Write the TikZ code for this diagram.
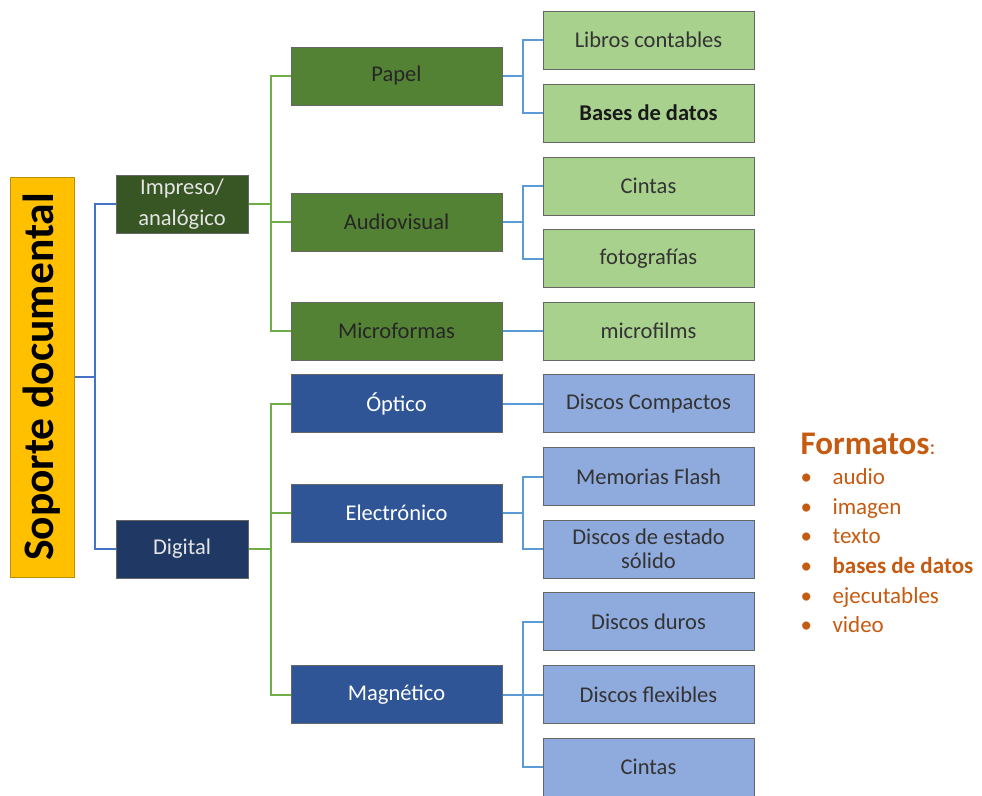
\documentclass[tikz,border=0pt]{standalone}
\usepackage{fontspec}
\setmainfont{Carlito}
\usepackage{tikz}
\usetikzlibrary{positioning}
\definecolor{myellow}{HTML}{FFC000}
\definecolor{mdgreen}{HTML}{375623}
\definecolor{mgreen}{HTML}{548235}
\definecolor{mlgreen}{HTML}{A9D18E}
\definecolor{mnavy}{HTML}{203864}
\definecolor{mblue}{HTML}{2F5597}
\definecolor{mlblue}{HTML}{8FAADC}
\definecolor{lblue}{HTML}{4472C4}
\definecolor{lgreen}{HTML}{70AD47}
\definecolor{lsky}{HTML}{5B9BD5}
\definecolor{morange}{HTML}{C55A11}
\tikzset{box/.style = {draw = black!60, line width = 1, minimum width = 211, minimum height = 58,
                       inner sep = 0, align = center, font = \fontsize{22.5}{24}\selectfont}}
\tikzset{kid/.style = {box, minimum width = 132, minimum height = 58}}
\tikzset{wire/.style = {line width = 2}}
\tikzset{item/.style = {anchor = base west, text = morange, font = \fontsize{23}{26}\selectfont}}

\begin{document}
\begin{tikzpicture}[x=1pt, y=-1pt]
      \useasboundingbox (0, 0) rectangle (982, 795);

      \node [box, rotate=90, minimum width = 400, minimum height = 64, fill = myellow, draw = myellow!75!black,
             font = \fontsize{43.5}{46}\selectfont\bfseries] (soporte) at (42, 377) {Soporte documental};

      \node [kid, fill = mdgreen, text = white!90!black, font = \fontsize{22.5}{31}\selectfont] (impreso) at (182, 204) {Impreso/\\analógico};
      \node [kid, fill = mnavy, text = white!90!black] (digital) at (182, 549) {Digital};

      \node [box, fill = mgreen, text = black!85] (papel) at (396.5, 76) {Papel};
      \node [box, fill = mgreen, text = black!85] (audio) at (396.5, 222) {Audiovisual};
      \node [box, fill = mgreen, text = black!85] (micro) at (396.5, 331) {Microformas};
      \node [box, fill = mblue, text = white] (optico) at (396.5, 403.5) {Óptico};
      \node [box, fill = mblue, text = white] (electro) at (396.5, 513) {Electrónico};
      \node [box, fill = mblue, text = white] (magne) at (396.5, 694.5) {Magnético};

      \node [box, fill = mlgreen, text = black!80] (libros) at (648.5, 40) {Libros contables};
      \node [box, fill = mlgreen, text = black!90, font = \fontsize{22.5}{24}\selectfont\bfseries] (bases) at (648.5, 113) {Bases de datos};
      \node [box, fill = mlgreen, text = black!80] (cintasa) at (648.5, 186) {Cintas};
      \node [box, fill = mlgreen, text = black!80] (foto) at (648.5, 258.5) {fotografías};
      \node [box, fill = mlgreen, text = black!80] (films) at (648.5, 331) {microfilms};
      \node [box, fill = mlblue, text = black!80] (cd) at (648.5, 403.5) {Discos Compactos};
      \node [box, fill = mlblue, text = black!80] (flash) at (648.5, 476.5) {Memorias Flash};
      \node [box, fill = mlblue, text = black!80] (ssd) at (648.5, 549) {Discos de estado\\sólido};
      \node [box, fill = mlblue, text = black!80] (duros) at (648.5, 621.5) {Discos duros};
      \node [box, fill = mlblue, text = black!80] (flex) at (648.5, 694.5) {Discos flexibles};
      \node [box, fill = mlblue, text = black!80] (cintasb) at (648.5, 767) {Cintas};

      \draw [wire, lblue] (soporte.south) -- ++(20, 0) coordinate (s0) |- (impreso.west);
      \draw [wire, lblue] (s0) |- (digital.west);

      \draw [wire, lgreen] (impreso.east) -- ++(22, 0) coordinate (i0) |- (papel.west);
      \draw [wire, lgreen] (i0) |- (audio.west);
      \draw [wire, lgreen] (i0) |- (micro.west);
      \draw [wire, lgreen] (digital.east) -- ++(22, 0) coordinate (d0) |- (optico.west);
      \draw [wire, lgreen] (d0) |- (electro.west);
      \draw [wire, lgreen] (d0) |- (magne.west);

      \draw [wire, lsky] (papel.east) -- ++(20, 0) coordinate (p0) |- (libros.west);
      \draw [wire, lsky] (p0) |- (bases.west);
      \draw [wire, lsky] (audio.east) -- ++(20, 0) coordinate (a0) |- (cintasa.west);
      \draw [wire, lsky] (a0) |- (foto.west);
      \draw [wire, lsky] (micro.east) -- (films.west);
      \draw [wire, lsky] (optico.east) -- (cd.west);
      \draw [wire, lsky] (electro.east) -- ++(20, 0) coordinate (e0) |- (flash.west);
      \draw [wire, lsky] (e0) |- (ssd.west);
      \draw [wire, lsky] (magne.east) -- ++(20, 0) coordinate (m0) |- (duros.west);
      \draw [wire, lsky] (m0) |- (flex.west);
      \draw [wire, lsky] (m0) |- (cintasb.west);

      \node [item, font = \fontsize{33}{36}\selectfont\bfseries] (formatos) at (797, 454)
            {Formatos\fontsize{22}{24}\mdseries\selectfont:};
      \foreach \k/\w [count = \i] in {a/audio, b/imagen, c/texto, d/\textbf{bases de datos}, e/ejecutables, f/video} {
        \node [item] (dot\k) at (797, 455 + 29.6 * \i) {\textbullet};
        \node [item] (fmt\k) at (829, 455 + 29.6 * \i) {\w};
      }
\end{tikzpicture}
\end{document}
